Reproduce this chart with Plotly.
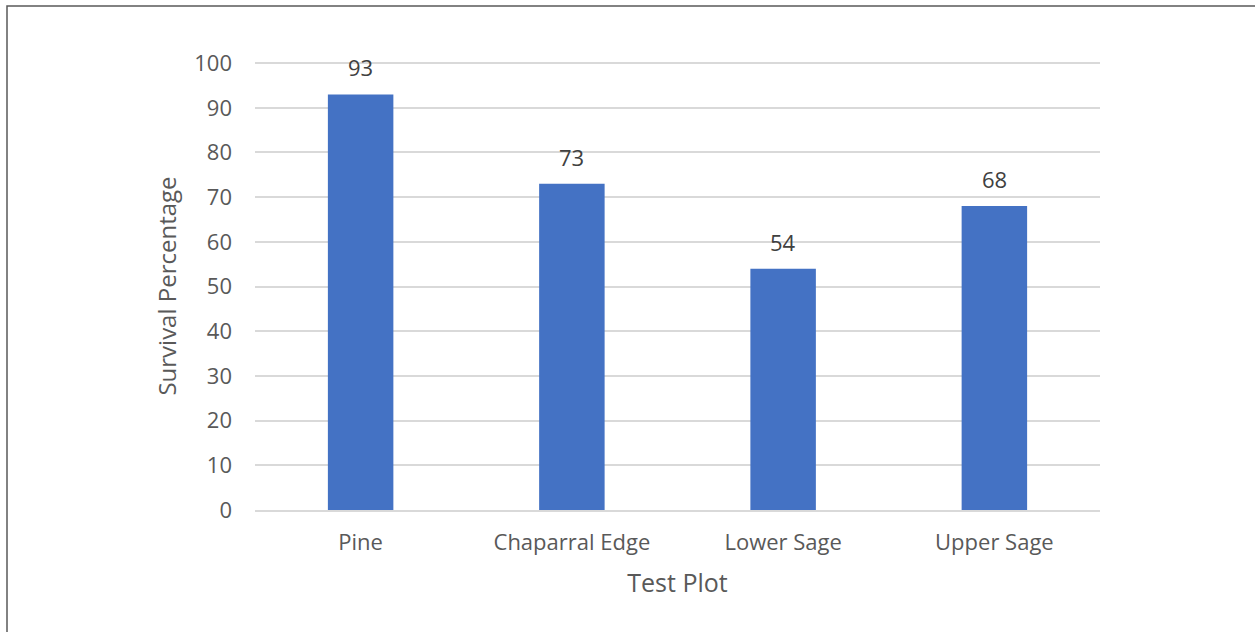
import plotly.graph_objects as go

categories = ["Pine", "Chaparral Edge", "Lower Sage", "Upper Sage"]
survival = [93, 73, 54, 68]
y_ticks = [0, 10, 20, 30, 40, 50, 60, 70, 80, 90, 100]

W, H = 1255, 632
L, R, T, B = 255, 155, 62, 122
pw, ph = W - L - R, H - T - B

fig = go.Figure()
fig.add_trace(go.Bar(x=categories, y=survival, marker_color="#4472C4",
                     marker_line_width=0, width=0.31, hoverinfo="skip"))

for c, v in zip(categories, survival):
    fig.add_annotation(x=c, y=v, text=str(v), showarrow=False, yanchor="bottom",
                       yshift=10, font=dict(family="Open Sans", size=22, color="#404040"))

# outer chart border
fig.add_shape(type="rect", xref="paper", yref="paper",
              x0=(7 - L) / pw, x1=(W + 5 - L) / pw,
              y0=-(H + 5 - T - ph) / ph, y1=1 + (T - 6) / ph,
              line=dict(color="#595959", width=1.5), fillcolor="rgba(0,0,0,0)", layer="below")

fig.update_layout(
    width=W, height=H,
    margin=dict(l=L, r=R, t=T, b=B),
    plot_bgcolor="white", paper_bgcolor="white",
    showlegend=False,
    font=dict(family="Open Sans", color="#595959"),
    xaxis=dict(title=dict(text="Test Plot", font=dict(size=25, color="#595959"), standoff=19),
               tickfont=dict(size=22, color="#595959"), showgrid=False,
               showline=True, linecolor="#d9d9d9", linewidth=2, ticks="",
               ticklabelstandoff=12, range=[-0.5, 3.5]),
    yaxis=dict(title=dict(text="Survival Percentage", font=dict(size=24, color="#595959"), standoff=10),
               tickfont=dict(size=22, color="#595959"), range=[0, 100.25],
               tickvals=y_ticks, showgrid=True, gridcolor="#d9d9d9", gridwidth=1.5,
               zeroline=False, showline=False, ticks="", ticklabelstandoff=22),
)

fig.write_html("out.html", config={"displayModeBar": False},
               post_script="document.body.style.margin='0';document.body.style.overflow='hidden';")
